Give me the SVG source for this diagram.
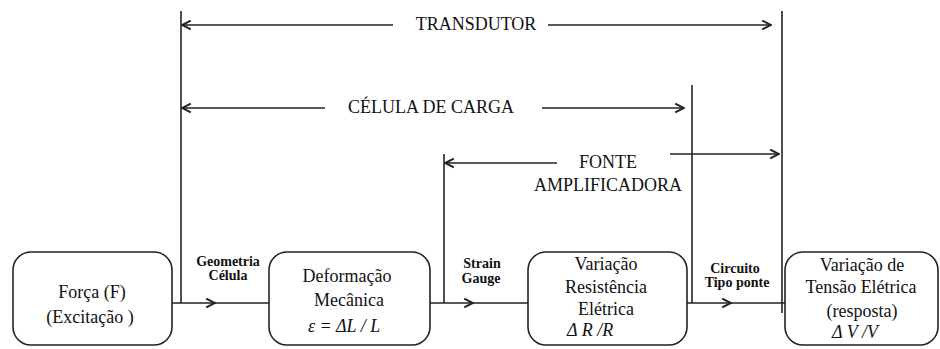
<svg xmlns="http://www.w3.org/2000/svg" width="940" height="349" viewBox="0 0 940 349" font-family="'Liberation Serif', 'DejaVu Serif', serif">
<defs>
<style>
.box{fill:#fff;stroke:#222;stroke-width:1.6}
.ln{fill:none;stroke:#222;stroke-width:1.6}
text{font-family:'Liberation Serif','DejaVu Serif',serif}
.t{font-size:18px;fill:#111;text-anchor:middle}
.s{font-size:14px;font-weight:bold;fill:#111;text-anchor:middle}
.f{font-size:18px;font-style:italic;fill:#111}
</style>
<marker id="ah" viewBox="0 0 10 10" refX="9" refY="5" markerWidth="11" markerHeight="11" markerUnits="userSpaceOnUse" orient="auto">
<path d="M1 1 L9 5 L1 9" fill="none" stroke="#222" stroke-width="1.8"/>
</marker>
</defs>
<rect width="940" height="349" fill="#fff"/>
<g id="connectors">
<line class="ln" x1="181" y1="11" x2="181" y2="303"/>
<line class="ln" x1="444" y1="154" x2="444" y2="303"/>
<line class="ln" x1="692" y1="85" x2="692" y2="303"/>
<line class="ln" x1="782" y1="11" x2="782" y2="313"/>
<path class="ln" d="M393 25 H182" marker-end="url(#ah)"/>
<path class="ln" d="M548 25 H771" marker-end="url(#ah)"/>
<path class="ln" d="M325 108 H182" marker-end="url(#ah)"/>
<path class="ln" d="M542 108 H684" marker-end="url(#ah)"/>
<path class="ln" d="M557 163 H445" marker-end="url(#ah)"/>
<path class="ln" d="M670 154 H779" marker-end="url(#ah)"/>
<path class="ln" d="M172 303 L215 303 L269 303" marker-mid="url(#ah)"/>
<path class="ln" d="M430 303 L473 303 L528 303" marker-mid="url(#ah)"/>
<path class="ln" d="M687 303 L731 303 L785 303" marker-mid="url(#ah)"/>
<text class="t" x="476" y="30">TRANSDUTOR</text>
<text class="t" x="431" y="113">CÉLULA DE CARGA</text>
<text class="t" x="608" y="168">FONTE</text>
<text class="t" x="608" y="191">AMPLIFICADORA</text>
<text class="s" x="228" y="266">Geometria</text>
<text class="s" x="228" y="280">Célula</text>
<text class="s" x="482" y="268">Strain</text>
<text class="s" x="481" y="283">Gauge</text>
<text class="s" x="735" y="273">Circuito</text>
<text class="s" x="737" y="287">Tipo ponte</text>
</g>
<g id="forca">
<rect class="box" x="13" y="252" width="159" height="93" rx="18"/>
<text class="t" x="92" y="298">Força (F)</text>
<text class="t" x="90" y="323">(Excitação )</text>
</g>
<g id="deformacao">
<rect class="box" x="269" y="252" width="161" height="93" rx="18"/>
<text class="t" x="347" y="282">Deformação</text>
<text class="t" x="349" y="306">Mecânica</text>
<text class="f" x="308" y="332">ε = ΔL / L</text>
</g>
<g id="resistencia">
<rect class="box" x="528" y="252" width="159" height="93" rx="18"/>
<text class="t" x="606" y="270">Variação</text>
<text class="t" x="606" y="293">Resistência</text>
<text class="t" x="606" y="315">Elétrica</text>
<text class="f" x="567" y="336">Δ R /R</text>
</g>
<g id="tensao">
<rect class="box" x="785" y="252" width="153" height="93" rx="18"/>
<text class="t" x="862" y="271">Variação de</text>
<text class="t" x="861" y="293">Tensão Elétrica</text>
<text class="t" x="862" y="317">(resposta)</text>
<text class="f" x="832" y="338">Δ V /V</text>
</g>
</svg>
